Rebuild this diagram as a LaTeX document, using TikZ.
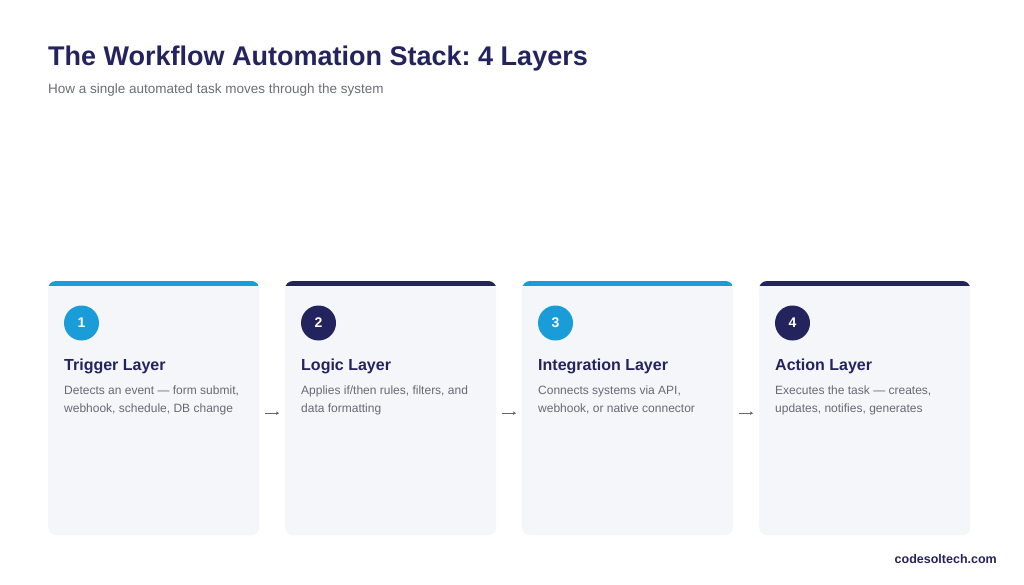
\documentclass[tikz,border=0pt]{standalone}
\usepackage{fontspec}
\setmainfont{Liberation Sans}
\usetikzlibrary{arrows.meta}
\frenchspacing
\definecolor{navy}{HTML}{23235E}
\definecolor{sky}{HTML}{1A9CD8}
\definecolor{cardbg}{HTML}{F4F6F9}
\definecolor{txtgray}{HTML}{666A73}
\definecolor{subgray}{HTML}{6B6E76}
\definecolor{arrgray}{HTML}{666666}
\tikzset{
  card/.style={rectangle, rounded corners=8pt, fill=cardbg, minimum width=211pt, minimum height=254pt, inner sep=0pt, anchor=north west},
  numcirc/.style={circle, minimum size=35pt, inner sep=0pt, text=white, font=\bfseries\fontsize{14}{16}\selectfont},
  layertitle/.style={anchor=base west, inner sep=0pt, text=navy, font=\bfseries\fontsize{16}{20}\selectfont},
  layerdesc/.style={anchor=base west, inner sep=0pt, text=txtgray, font=\fontsize{12}{18}\selectfont, align=left},
  flowarrow/.style={draw=arrgray, line width=0.8pt, -{Stealth[length=3pt,width=3.5pt]}, shorten <=6pt, shorten >=6pt}
}
\begin{document}
\frenchspacing
\begin{tikzpicture}[x=1pt,y=-1pt]
\useasboundingbox[fill=white] (0,0) rectangle (1024,584);
\node[anchor=base west, inner sep=0pt, text=navy, font=\bfseries\fontsize{27}{32}\selectfont] (title) at (48,65) {The Workflow Automation Stack: 4 Layers};
\node[anchor=base west, inner sep=0pt, text=subgray, font=\fontsize{13.5}{16}\selectfont] (subtitle) at (48,93) {How a single automated task moves through the system};
\foreach \i/\x/\col/\ttl/\da/\db in {
  1/48/sky/Trigger Layer/{Detects an event — form submit,}/{webhook, schedule, DB change},
  2/285/navy/Logic Layer/{Applies if/then rules, filters, and}/{data formatting},
  3/522/sky/Integration Layer/{Connects systems via API,}/{webhook, or native connector},
  4/759/navy/Action Layer/{Executes the task — creates,}/{updates, notifies, generates}}{
  \node[card] (c\i) at (\x,281) {};
  \begin{scope}
    \clip[rounded corners=8pt] (c\i.north west) rectangle (c\i.south east);
    \fill[\col] (c\i.north west) rectangle ([yshift=-4.5pt]c\i.north east);
  \end{scope}
  \node[numcirc, fill=\col] (n\i) at (\x+33.5,323) {\i};
  \node[layertitle] (t\i) at (\x+16,370) {\ttl};
  \node[layerdesc] (d\i) at (\x+16,412) {\da\\\db};
}
\foreach \a/\b in {1/2,2/3,3/4}{
  \draw[flowarrow] ([yshift=-5pt]c\a.east) -- ([yshift=-5pt]c\b.west);
}
\node[anchor=base east, inner sep=0pt, text=navy, font=\bfseries\fontsize{12.5}{15}\selectfont] (footer) at (997,563) {codesoltech.com};
\end{tikzpicture}
\end{document}
